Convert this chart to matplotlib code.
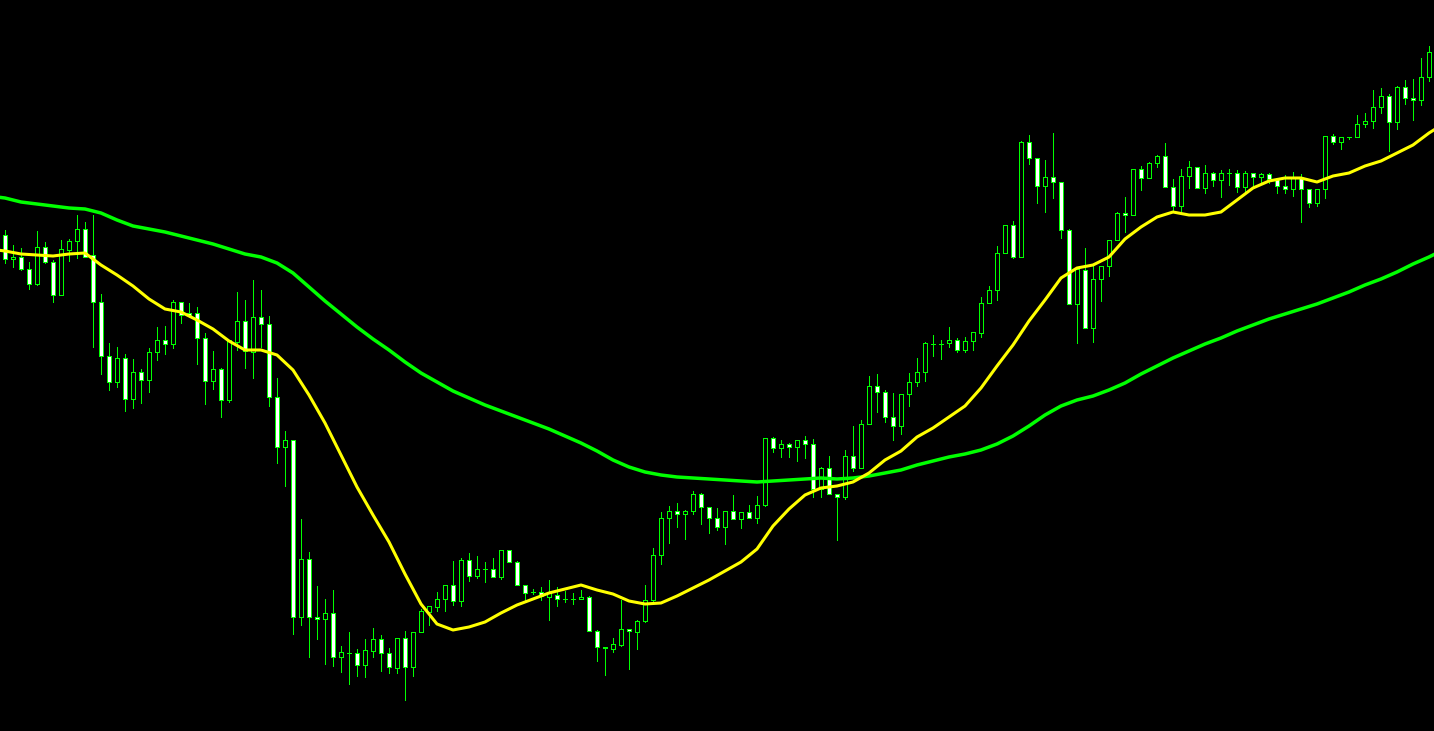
import numpy as np
import matplotlib.pyplot as plt

# candle data (price levels in screen units, top = 0)
opens = [235, 259, 257, 269, 284, 247, 262, 295, 250, 241, 229, 255, 302, 356, 382, 358, 399, 372, 380, 352,
         340, 344, 302, 313, 313, 338, 381, 369, 400, 342, 321, 352, 317, 324, 397, 447, 440, 617, 559, 617,
         619, 613, 657, 653, 653, 665, 651, 639, 653, 668, 638, 667, 632, 612, 607, 599, 585, 601, 560, 576,
         569, 569, 577, 550, 562, 585, 592, 592, 597, 595, 599, 599, 599, 597, 631, 648, 649, 645, 629, 632,
         621, 600, 555, 518, 511, 514, 511, 494, 507, 518, 527, 511, 519, 512, 518, 505, 438, 448, 444, 447,
         440, 444, 489, 468, 494, 497, 456, 468, 424, 386, 392, 417, 426, 394, 382, 372, 344, 344, 343, 340,
         350, 341, 333, 303, 290, 253, 225, 257, 142, 158, 186, 177, 182, 230, 304, 270, 328, 279, 266, 240,
         213, 215, 169, 178, 163, 156, 187, 206, 176, 167, 188, 173, 180, 173, 173, 187, 173, 177, 174, 179,
         186, 189, 178, 189, 203, 189, 136, 142, 137, 137, 124, 121, 107, 96, 122, 87, 98, 100, 77]
closes = [259, 257, 269, 284, 247, 262, 295, 249, 241, 229, 257, 302, 356, 382, 358, 399, 372, 380, 352, 340,
          344, 302, 315, 315, 338, 381, 369, 400, 340, 321, 351, 317, 324, 397, 447, 440, 617, 559, 617, 619,
          613, 657, 652, 653, 665, 650, 639, 653, 667, 638, 667, 632, 611, 606, 599, 585, 601, 560, 576, 569,
          569, 577, 550, 562, 585, 593, 592, 596, 593, 599, 599, 599, 597, 631, 647, 647, 644, 629, 631, 621,
          600, 555, 518, 511, 514, 511, 494, 507, 518, 527, 511, 519, 512, 518, 505, 438, 448, 444, 447, 440,
          444, 489, 468, 494, 497, 456, 468, 424, 386, 392, 417, 426, 394, 382, 372, 343, 344, 344, 340, 350,
          341, 332, 303, 290, 253, 225, 257, 142, 158, 186, 177, 182, 230, 304, 269, 328, 279, 266, 240, 213,
          215, 169, 178, 163, 156, 187, 206, 176, 167, 188, 173, 180, 173, 173, 187, 173, 177, 174, 179, 186,
          189, 178, 189, 203, 189, 136, 142, 137, 137, 124, 121, 107, 96, 122, 87, 98, 100, 77, 52]
highs = [230, 245, 248, 262, 231, 242, 260, 240, 239, 215, 222, 215, 294, 343, 347, 354, 359, 369, 348, 327,
         326, 300, 302, 303, 307, 333, 351, 368, 340, 292, 300, 280, 290, 316, 378, 431, 440, 519, 552, 586,
         599, 590, 646, 632, 649, 639, 628, 635, 648, 638, 631, 632, 609, 606, 592, 585, 561, 558, 553, 556,
         562, 558, 550, 550, 561, 585, 589, 587, 580, 587, 591, 593, 590, 596, 630, 647, 638, 600, 629, 620,
         585, 548, 512, 506, 503, 510, 491, 493, 507, 508, 511, 495, 512, 505, 496, 438, 437, 440, 443, 440,
         436, 439, 467, 456, 494, 450, 426, 420, 376, 374, 390, 393, 394, 373, 358, 342, 335, 340, 327, 338,
         337, 332, 297, 286, 246, 225, 221, 141, 135, 158, 160, 133, 182, 229, 269, 248, 265, 266, 240, 212,
         197, 169, 166, 162, 155, 143, 179, 169, 161, 167, 165, 172, 170, 169, 170, 171, 173, 173, 173, 179,
         175, 172, 174, 189, 189, 136, 134, 137, 137, 115, 113, 90, 88, 94, 86, 80, 79, 58, 46]
lows = [263, 267, 270, 289, 285, 263, 302, 295, 261, 258, 257, 347, 374, 390, 387, 411, 408, 403, 392, 360,
        354, 348, 323, 317, 364, 404, 389, 417, 402, 350, 368, 378, 347, 406, 463, 486, 634, 625, 657, 639,
        664, 666, 672, 684, 676, 677, 657, 671, 673, 673, 700, 676, 632, 625, 611, 611, 605, 606, 581, 578,
        582, 577, 579, 562, 585, 601, 594, 600, 620, 606, 602, 604, 599, 631, 661, 675, 652, 646, 669, 649,
        622, 604, 564, 543, 527, 539, 514, 524, 533, 530, 544, 519, 528, 518, 523, 506, 452, 457, 457, 461,
        458, 497, 497, 494, 540, 499, 471, 468, 424, 412, 422, 440, 434, 406, 386, 381, 356, 359, 347, 352,
        352, 350, 337, 303, 300, 253, 258, 257, 164, 203, 212, 198, 238, 304, 343, 328, 342, 301, 276, 240,
        232, 215, 190, 178, 167, 187, 211, 211, 188, 188, 193, 186, 197, 185, 192, 193, 186, 184, 183, 193,
        193, 196, 222, 207, 206, 198, 144, 149, 139, 137, 127, 128, 113, 151, 129, 104, 120, 105, 81]

# yellow (fast) moving average, every 2nd bar
yellow_idx = [-1] + list(range(0, 179, 2)) + [179]
yellow_ma = [250, 251, 254, 255, 256, 254, 253, 265, 275, 286, 299, 309, 312, 320, 329, 341, 350, 350, 355,
             370, 395, 423, 455, 487, 515, 542, 574, 604, 624, 630, 627, 622, 613, 605, 599, 593, 589, 585,
             590, 594, 601, 604, 603, 596, 588, 580, 571, 562, 549, 526, 509, 495, 488, 486, 482, 473, 460,
             451, 437, 428, 417, 406, 388, 366, 345, 321, 300, 278, 268, 265, 257, 239, 227, 217, 212, 215,
             215, 212, 200, 188, 181, 178, 178, 182, 176, 173, 166, 161, 153, 145, 133, 128]

# green (slow) moving average, every 2nd bar
green_idx = [-1] + list(range(0, 179, 2)) + [179]
green_ma = [197, 198, 202, 204, 206, 208, 209, 213, 220, 226, 229, 232, 236, 240, 244, 249, 254, 257, 263,
            273, 287, 301, 314, 327, 339, 350, 362, 373, 382, 391, 398, 405, 411, 417, 423, 429, 436, 443,
            451, 460, 467, 472, 475, 477, 478, 479, 480, 481, 482, 481, 480, 479, 478, 479, 478, 476, 473,
            470, 465, 461, 457, 454, 450, 444, 436, 426, 415, 406, 400, 396, 390, 383, 374, 366, 358, 351,
            344, 338, 331, 325, 319, 314, 309, 304, 298, 292, 285, 279, 272, 264, 257, 253]

LIME = '#00ff00'
YELLOW = '#ffff00'

o = np.array(opens, dtype=float)
c = np.array(closes, dtype=float)
x = np.arange(len(o))
bear = c > o  # price falls -> lower on screen
body_lo = np.minimum(o, c)
body_h = np.maximum(np.abs(c - o), 0.3)

fig = plt.figure(figsize=(14.34, 7.31), dpi=100)
fig.patch.set_facecolor('black')
ax = fig.add_axes([0, 0, 1, 1])
ax.set_facecolor('black')

ax.vlines(x, highs, lows, color=LIME, linewidth=0.72, antialiased=False, zorder=1)
ax.bar(x, body_h, bottom=body_lo, width=0.55,
       color=np.where(bear, 'white', 'black'), edgecolor=LIME, linewidth=0.72,
       antialiased=False, zorder=2)

ax.plot(green_idx, green_ma, color=LIME, linewidth=2.5, zorder=3)
ax.plot(yellow_idx, yellow_ma, color=YELLOW, linewidth=2.2, zorder=4)

ax.set_xlim(-0.625, 178.625)
ax.set_ylim(731, 0)
ax.axis('off')

fig.savefig('out.png', dpi=100, facecolor='black')
